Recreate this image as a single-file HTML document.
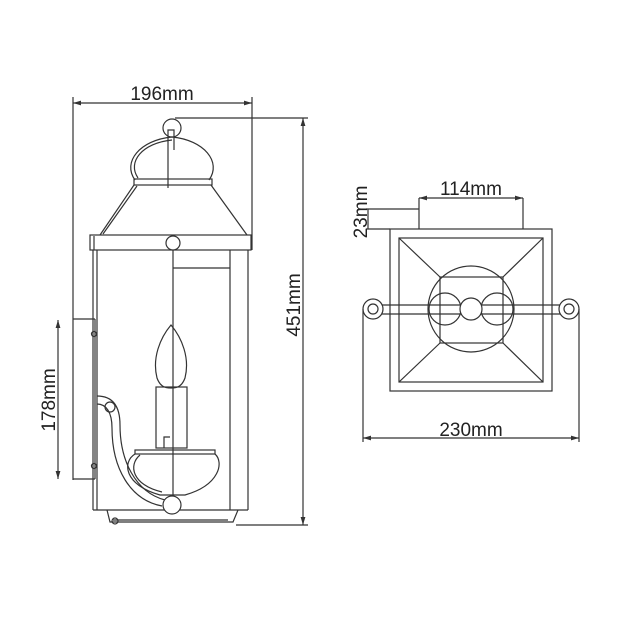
<!DOCTYPE html>
<html><head><meta charset="utf-8"><style>
html,body{margin:0;padding:0;background:#fff;}
svg{display:block;}
text{font-family:"Liberation Sans",Arial,sans-serif;fill:#222;}
</style></head><body>
<svg width="623" height="623" viewBox="0 0 623 623" xmlns="http://www.w3.org/2000/svg">
<defs>
<marker id="a" viewBox="0 0 10 6" refX="10" refY="3" markerWidth="7" markerHeight="4" orient="auto-start-reverse"><path d="M0,0L10,3L0,6z" fill="#333"/></marker>
</defs>
<g fill="none" stroke="#333" stroke-width="1.2">
<line x1="73" y1="103" x2="252" y2="103" marker-start="url(#a)" marker-end="url(#a)"/>
<line x1="73" y1="97" x2="73" y2="480"/>
<line x1="252" y1="97" x2="252" y2="250"/>
<line x1="303" y1="118" x2="303" y2="525" marker-start="url(#a)" marker-end="url(#a)"/>
<line x1="175" y1="118" x2="308" y2="118"/>
<line x1="236" y1="525" x2="308" y2="525"/>
<line x1="58" y1="320" x2="58" y2="479" marker-start="url(#a)" marker-end="url(#a)"/>
<line x1="73" y1="319" x2="95" y2="319"/>
<line x1="73" y1="479" x2="95" y2="479"/>
<line x1="95" y1="319" x2="95" y2="479"/>
<circle cx="172" cy="128" r="9"/>
<path d="M168,150 L168,130 L174,130 L174,150"/>
<line x1="168" y1="150" x2="168" y2="188"/>
<path d="M135,180 C122,162 140,140 172,137 C204,140 222,162 209,180"/>
<path d="M138,178 C127,162 142,143 172,140"/>
<rect x="134" y="179" width="78" height="6"/>
<path d="M134,185 L100,235"/>
<path d="M137,186 L103,234"/>
<path d="M211,185 L247,235"/>
<rect x="90" y="235" width="161" height="15"/>
<line x1="94" y1="236" x2="94" y2="250"/>
<circle cx="173" cy="243" r="7" fill="#fff"/>
<line x1="93" y1="250" x2="93" y2="510"/>
<line x1="97" y1="250" x2="97" y2="510"/>
<line x1="230" y1="250" x2="230" y2="510"/>
<line x1="248" y1="250" x2="248" y2="510"/>
<line x1="173" y1="250" x2="173" y2="498"/>
<line x1="173" y1="268" x2="230" y2="268"/>
<line x1="93" y1="510" x2="248" y2="510"/>
<circle cx="94" cy="334" r="2.5"/>
<circle cx="94" cy="466" r="2.5"/>
<path d="M97,396 C112,396 120,405 120,425 C120,460 135,492 165,500"/>
<path d="M97,404 C106,404 112,412 112,428 C112,468 130,500 162,506"/>
<circle cx="110" cy="407" r="5"/>
<path d="M171,325 C160,338 152,358 157,378 C160,386 164,388 171,388 C178,388 182,386 185,378 C190,358 182,338 171,325 Z"/>
<rect x="156" y="387" width="31" height="61"/>
<path d="M164,448 L164,437 L170,437"/>
<rect x="135" y="450" width="80" height="4"/>
<path d="M135,454 C122,462 124,485 160,495 L185,495 C220,485 224,462 215,454"/>
<path d="M140,455 C128,465 132,485 162,492"/>
<circle cx="172" cy="505" r="9" fill="#fff"/>
<path d="M107,510 L110,522 L233,522 L238,510"/>
<line x1="113" y1="520" x2="228" y2="520"/>
<circle cx="115" cy="521" r="3"/>
<rect x="390" y="229" width="162" height="162"/>
<rect x="399" y="238" width="144" height="144"/>
<line x1="399" y1="238" x2="440" y2="277"/>
<line x1="543" y1="238" x2="503" y2="277"/>
<line x1="399" y1="382" x2="440" y2="343"/>
<line x1="543" y1="382" x2="503" y2="343"/>
<rect x="440" y="277" width="63" height="66"/>
<circle cx="471" cy="309" r="43"/>
<circle cx="445" cy="309" r="16"/>
<circle cx="497" cy="309" r="16"/>
<line x1="373" y1="305" x2="569" y2="305"/>
<line x1="373" y1="314" x2="569" y2="314"/>
<circle cx="471" cy="309" r="11" fill="#fff"/>
<circle cx="373" cy="309" r="10" fill="#fff"/>
<circle cx="373" cy="309" r="5"/>
<circle cx="569" cy="309" r="10" fill="#fff"/>
<circle cx="569" cy="309" r="5"/>
<line x1="419" y1="198" x2="523" y2="198" marker-start="url(#a)" marker-end="url(#a)"/>
<line x1="419" y1="198" x2="419" y2="229"/>
<line x1="523" y1="198" x2="523" y2="229"/>
<line x1="366" y1="209" x2="419" y2="209"/>
<line x1="366" y1="229" x2="390" y2="229"/>
<line x1="368" y1="209" x2="368" y2="229"/>
<line x1="363" y1="438" x2="579" y2="438" marker-start="url(#a)" marker-end="url(#a)"/>
<line x1="363" y1="309" x2="363" y2="442"/>
<line x1="579" y1="309" x2="579" y2="442"/>
</g>
<g font-size="19">
<text x="162" y="100" text-anchor="middle">196mm</text>
<text transform="translate(300,305) rotate(-90)" text-anchor="middle">451mm</text>
<text transform="translate(55,400) rotate(-90)" text-anchor="middle">178mm</text>
<text x="471" y="195" text-anchor="middle">114mm</text>
<text transform="translate(367,212) rotate(-90)" text-anchor="middle">23mm</text>
<text x="471" y="436" text-anchor="middle">230mm</text>
</g>
</svg>
</body></html>
